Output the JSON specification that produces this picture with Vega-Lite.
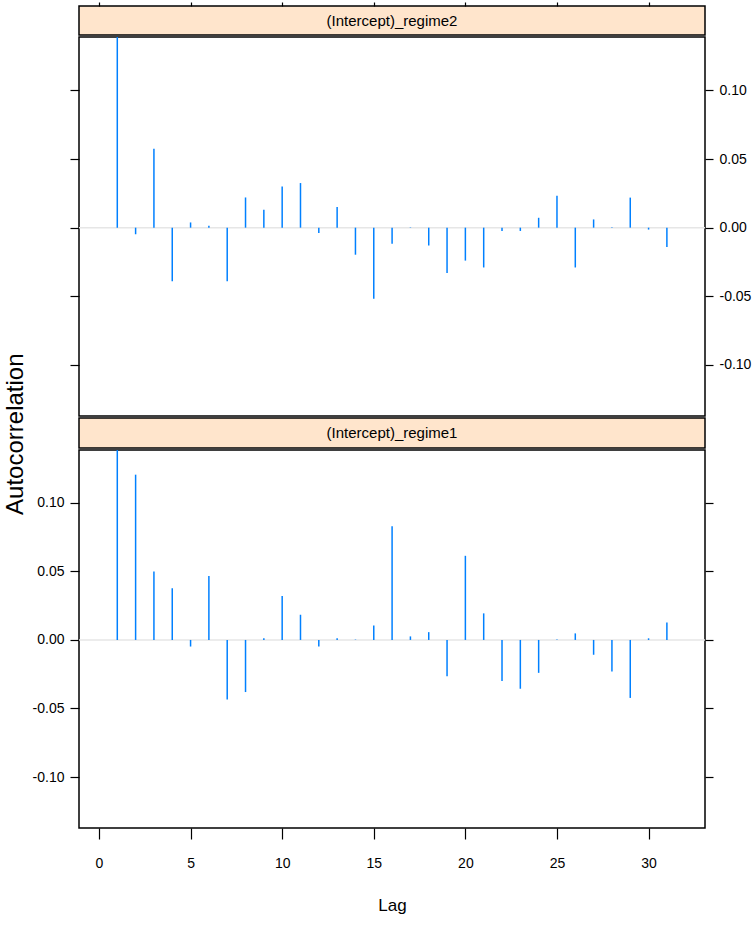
{
  "$schema": "https://vega.github.io/schema/vega-lite/v6.json",
  "background": "white",
  "padding": {"left": 4, "top": 0, "right": 2, "bottom": 4},
  "datasets": {
    "acf": [
      {"panel": "(Intercept)_regime2", "lag": 1, "acf": 1.0},
      {"panel": "(Intercept)_regime2", "lag": 2, "acf": -0.0048},
      {"panel": "(Intercept)_regime2", "lag": 3, "acf": 0.0575},
      {"panel": "(Intercept)_regime2", "lag": 4, "acf": -0.039},
      {"panel": "(Intercept)_regime2", "lag": 5, "acf": 0.0038},
      {"panel": "(Intercept)_regime2", "lag": 6, "acf": 0.0014},
      {"panel": "(Intercept)_regime2", "lag": 7, "acf": -0.039},
      {"panel": "(Intercept)_regime2", "lag": 8, "acf": 0.022},
      {"panel": "(Intercept)_regime2", "lag": 9, "acf": 0.013},
      {"panel": "(Intercept)_regime2", "lag": 10, "acf": 0.030},
      {"panel": "(Intercept)_regime2", "lag": 11, "acf": 0.0325},
      {"panel": "(Intercept)_regime2", "lag": 12, "acf": -0.0038},
      {"panel": "(Intercept)_regime2", "lag": 13, "acf": 0.015},
      {"panel": "(Intercept)_regime2", "lag": 14, "acf": -0.0197},
      {"panel": "(Intercept)_regime2", "lag": 15, "acf": -0.0517},
      {"panel": "(Intercept)_regime2", "lag": 16, "acf": -0.0118},
      {"panel": "(Intercept)_regime2", "lag": 17, "acf": 0.0003},
      {"panel": "(Intercept)_regime2", "lag": 18, "acf": -0.013},
      {"panel": "(Intercept)_regime2", "lag": 19, "acf": -0.033},
      {"panel": "(Intercept)_regime2", "lag": 20, "acf": -0.024},
      {"panel": "(Intercept)_regime2", "lag": 21, "acf": -0.029},
      {"panel": "(Intercept)_regime2", "lag": 22, "acf": -0.0024},
      {"panel": "(Intercept)_regime2", "lag": 23, "acf": -0.0024},
      {"panel": "(Intercept)_regime2", "lag": 24, "acf": 0.0072},
      {"panel": "(Intercept)_regime2", "lag": 25, "acf": 0.0233},
      {"panel": "(Intercept)_regime2", "lag": 26, "acf": -0.029},
      {"panel": "(Intercept)_regime2", "lag": 27, "acf": 0.006},
      {"panel": "(Intercept)_regime2", "lag": 28, "acf": 0.0003},
      {"panel": "(Intercept)_regime2", "lag": 29, "acf": 0.0219},
      {"panel": "(Intercept)_regime2", "lag": 30, "acf": -0.0014},
      {"panel": "(Intercept)_regime2", "lag": 31, "acf": -0.014},
      {"panel": "(Intercept)_regime1", "lag": 1, "acf": 1.0},
      {"panel": "(Intercept)_regime1", "lag": 2, "acf": 0.1206},
      {"panel": "(Intercept)_regime1", "lag": 3, "acf": 0.050},
      {"panel": "(Intercept)_regime1", "lag": 4, "acf": 0.0378},
      {"panel": "(Intercept)_regime1", "lag": 5, "acf": -0.0048},
      {"panel": "(Intercept)_regime1", "lag": 6, "acf": 0.0466},
      {"panel": "(Intercept)_regime1", "lag": 7, "acf": -0.0435},
      {"panel": "(Intercept)_regime1", "lag": 8, "acf": -0.038},
      {"panel": "(Intercept)_regime1", "lag": 9, "acf": 0.0012},
      {"panel": "(Intercept)_regime1", "lag": 10, "acf": 0.032},
      {"panel": "(Intercept)_regime1", "lag": 11, "acf": 0.0184},
      {"panel": "(Intercept)_regime1", "lag": 12, "acf": -0.0048},
      {"panel": "(Intercept)_regime1", "lag": 13, "acf": 0.0012},
      {"panel": "(Intercept)_regime1", "lag": 14, "acf": 0.0003},
      {"panel": "(Intercept)_regime1", "lag": 15, "acf": 0.0105},
      {"panel": "(Intercept)_regime1", "lag": 16, "acf": 0.083},
      {"panel": "(Intercept)_regime1", "lag": 17, "acf": 0.0026},
      {"panel": "(Intercept)_regime1", "lag": 18, "acf": 0.0057},
      {"panel": "(Intercept)_regime1", "lag": 19, "acf": -0.0265},
      {"panel": "(Intercept)_regime1", "lag": 20, "acf": 0.0614},
      {"panel": "(Intercept)_regime1", "lag": 21, "acf": 0.0194},
      {"panel": "(Intercept)_regime1", "lag": 22, "acf": -0.030},
      {"panel": "(Intercept)_regime1", "lag": 23, "acf": -0.0356},
      {"panel": "(Intercept)_regime1", "lag": 24, "acf": -0.024},
      {"panel": "(Intercept)_regime1", "lag": 25, "acf": 0.0003},
      {"panel": "(Intercept)_regime1", "lag": 26, "acf": 0.0048},
      {"panel": "(Intercept)_regime1", "lag": 27, "acf": -0.0108},
      {"panel": "(Intercept)_regime1", "lag": 28, "acf": -0.023},
      {"panel": "(Intercept)_regime1", "lag": 29, "acf": -0.0423},
      {"panel": "(Intercept)_regime1", "lag": 30, "acf": 0.0012},
      {"panel": "(Intercept)_regime1", "lag": 31, "acf": 0.0127}
    ],
    "strips": [
      {"panel": "(Intercept)_regime2"},
      {"panel": "(Intercept)_regime1"}
    ],
    "ref": [{"zero": 0}]
  },
  "title": {
    "text": "Autocorrelation",
    "orient": "left",
    "anchor": "middle",
    "font": "Liberation Sans, Arial, sans-serif",
    "fontSize": 24,
    "fontWeight": "normal",
    "color": "#000",
    "offset": 3,
    "dx": 23
  },
  "spacing": 0,
  "config": {
    "axis": {
      "labelFont": "Liberation Sans, Arial, sans-serif",
      "labelFontSize": 14,
      "labelColor": "#000",
      "tickColor": "#000",
      "tickWidth": 1.2,
      "domain": false,
      "grid": false,
      "titleFont": "Liberation Sans, Arial, sans-serif",
      "titleFontWeight": "normal",
      "titleColor": "#000"
    }
  },
  "vconcat": [
    {
      "width": 626,
      "height": 29,
      "view": {"fill": "#ffe5cc", "stroke": "#000", "strokeWidth": 1.5},
      "layer": [
        {
          "data": {"name": "acf"},
          "mark": {"type": "point", "opacity": 0},
          "encoding": {
            "x": {
              "field": "lag", "type": "quantitative",
              "scale": {"domain": [-1.09, 33.08], "nice": false, "zero": false},
              "axis": {"orient": "top", "values": [0, 5, 10, 15, 20, 25, 30], "labels": false, "tickSize": 4, "title": null}
            }
          }
        },
        {
          "data": {"name": "strips"},
          "transform": [{"filter": "datum.panel === '(Intercept)_regime2'"}],
          "mark": {"type": "text", "font": "Liberation Sans, Arial, sans-serif", "fontSize": 15, "color": "#000", "baseline": "middle", "align": "center"},
          "encoding": {"text": {"field": "panel"}}
        }
      ]
    },
    {
      "width": 626,
      "height": 379,
      "view": {"stroke": "#000", "strokeWidth": 1.5},
      "layer": [
        {
          "data": {"name": "ref"},
          "mark": {"type": "rule", "color": "#e6e6e6", "strokeWidth": 1.5},
          "encoding": {
            "y": {
              "field": "zero", "type": "quantitative",
              "scale": {"domain": [-0.1372, 0.1389], "nice": false, "zero": false},
              "axis": {"orient": "left", "values": [-0.1, -0.05, 0, 0.05, 0.1], "labels": false, "tickSize": 9, "title": null}
            }
          }
        },
        {
          "data": {"name": "acf"},
          "transform": [{"filter": "datum.panel === '(Intercept)_regime2'"}],
          "mark": {"type": "rule", "color": "#0080ff", "strokeWidth": 1.5, "clip": true},
          "encoding": {
            "x": {
              "field": "lag", "type": "quantitative",
              "scale": {"domain": [-1.09, 33.08], "nice": false, "zero": false},
              "axis": null
            },
            "y": {
              "field": "acf", "type": "quantitative",
              "scale": {"domain": [-0.1372, 0.1389], "nice": false, "zero": false},
              "axis": {"orient": "right", "values": [-0.1, -0.05, 0, 0.05, 0.1], "tickSize": 8, "labelPadding": 6, "title": null,
                       "labelExpr": "replace(format(datum.value, '.2f'), '\u2212', '-')"}
            },
            "y2": {"datum": 0}
          }
        }
      ],
      "resolve": {"axis": {"y": "independent"}}
    },
    {
      "width": 626,
      "height": 30,
      "view": {"fill": "#ffe5cc", "stroke": "#000", "strokeWidth": 1.5},
      "data": {"name": "strips"},
      "transform": [{"filter": "datum.panel === '(Intercept)_regime1'"}],
      "mark": {"type": "text", "font": "Liberation Sans, Arial, sans-serif", "fontSize": 15, "color": "#000", "baseline": "middle", "align": "center"},
      "encoding": {"text": {"field": "panel"}}
    },
    {
      "width": 626,
      "height": 378,
      "view": {"stroke": "#000", "strokeWidth": 1.5},
      "layer": [
        {
          "data": {"name": "ref"},
          "mark": {"type": "rule", "color": "#e6e6e6", "strokeWidth": 1.5},
          "encoding": {
            "y": {
              "field": "zero", "type": "quantitative",
              "scale": {"domain": [-0.1372, 0.1386], "nice": false, "zero": false},
              "axis": {"orient": "left", "values": [-0.1, -0.05, 0, 0.05, 0.1], "tickSize": 9, "labelPadding": 6, "title": null,
                       "labelExpr": "replace(format(datum.value, '.2f'), '\u2212', '-')"}
            }
          }
        },
        {
          "data": {"name": "acf"},
          "transform": [{"filter": "datum.panel === '(Intercept)_regime1'"}],
          "mark": {"type": "rule", "color": "#0080ff", "strokeWidth": 1.5, "clip": true},
          "encoding": {
            "x": {
              "field": "lag", "type": "quantitative",
              "scale": {"domain": [-1.09, 33.08], "nice": false, "zero": false},
              "axis": {"orient": "bottom", "values": [0, 5, 10, 15, 20, 25, 30], "tickSize": 11, "labelPadding": 17,
                       "title": "Lag", "titleFontSize": 17, "titlePadding": 27}
            },
            "y": {
              "field": "acf", "type": "quantitative",
              "scale": {"domain": [-0.1372, 0.1386], "nice": false, "zero": false},
              "axis": {"orient": "right", "values": [-0.1, -0.05, 0, 0.05, 0.1], "labels": false, "tickSize": 8, "title": null}
            },
            "y2": {"datum": 0}
          }
        }
      ],
      "resolve": {"axis": {"y": "independent"}}
    }
  ]
}
